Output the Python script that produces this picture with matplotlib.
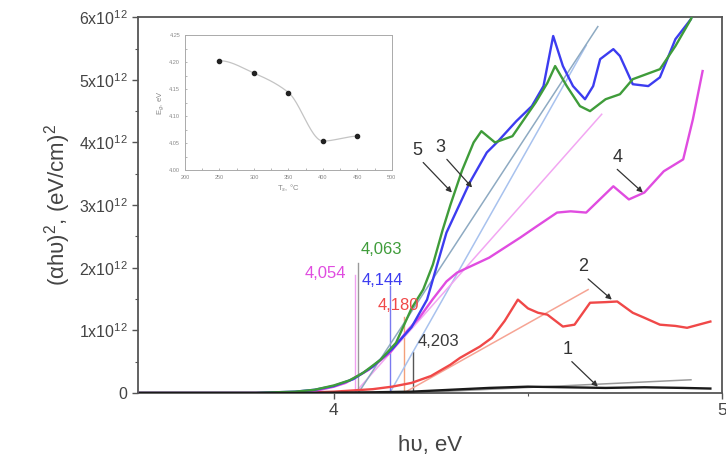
import numpy as np
import matplotlib
matplotlib.use("Agg")
import matplotlib.pyplot as plt
from matplotlib.ticker import MultipleLocator, FixedLocator, FormatStrFormatter

plt.rcParams['font.family'] = ['Liberation Sans', 'DejaVu Sans']
plt.rcParams['mathtext.fontset'] = 'custom'
plt.rcParams['mathtext.rm'] = 'Liberation Sans'

# ---- absorption spectra, (alpha*h*nu)^2 in units of 1e12 (eV/cm)^2 ----
E1 = [3.50, 3.90, 4.10, 4.20, 4.30, 4.40, 4.50, 4.60, 4.70, 4.80, 4.90, 4.97]
A1 = [0.00, 0.00, 0.01, 0.02, 0.05, 0.08, 0.10, 0.09, 0.08, 0.09, 0.08, 0.07]

E2 = [3.50, 3.90, 4.00, 4.10, 4.15, 4.20, 4.25, 4.30, 4.325, 4.376, 4.407, 4.44, 4.474,
      4.50, 4.526, 4.55, 4.59, 4.62, 4.66, 4.70, 4.73, 4.77, 4.80, 4.84, 4.88, 4.91, 4.97]
A2 = [0.00, 0.00, 0.02, 0.06, 0.10, 0.16, 0.27, 0.45, 0.56, 0.74, 0.88, 1.15, 1.49,
      1.35, 1.28, 1.25, 1.06, 1.09, 1.44, 1.45, 1.46, 1.28, 1.20, 1.09, 1.07, 1.04, 1.14]

E3 = [3.50, 3.80, 3.90, 3.95, 4.00, 4.05, 4.10, 4.15, 4.20, 4.24, 4.29, 4.35, 4.394,
      4.42, 4.47, 4.51, 4.54, 4.565, 4.59, 4.616, 4.647, 4.668, 4.686, 4.72, 4.737,
      4.77, 4.81, 4.84, 4.88, 4.92, 4.94]
A3 = [0.00, 0.00, 0.02, 0.05, 0.11, 0.22, 0.42, 0.70, 1.05, 1.49, 2.56, 3.36, 3.84,
      4.00, 4.34, 4.58, 4.90, 5.70, 5.22, 4.90, 4.69, 4.90, 5.33, 5.49, 5.38,
      4.93, 4.90, 5.04, 5.65, 5.97, 6.40]

E4 = [3.50, 3.80, 3.90, 3.95, 4.00, 4.03, 4.09, 4.144, 4.19, 4.22, 4.255, 4.29, 4.317,
      4.40, 4.48, 4.52, 4.575, 4.61, 4.65, 4.68, 4.72, 4.76, 4.80, 4.85, 4.90, 4.925, 4.95]
A4 = [0.00, 0.00, 0.01, 0.03, 0.10, 0.16, 0.37, 0.64, 1.00, 1.20, 1.50, 1.78, 1.92,
      2.16, 2.48, 2.65, 2.88, 2.90, 2.88, 3.06, 3.30, 3.09, 3.20, 3.54, 3.73, 4.37, 5.14]

E5 = [3.50, 3.80, 3.90, 3.95, 4.00, 4.04, 4.075, 4.12, 4.16, 4.20, 4.23, 4.255, 4.28,
      4.30, 4.33, 4.36, 4.38, 4.415, 4.46, 4.49, 4.52, 4.55, 4.57, 4.60, 4.634, 4.66,
      4.70, 4.737, 4.77, 4.84, 4.88, 4.92, 4.94]
A5 = [0.00, 0.00, 0.02, 0.05, 0.12, 0.20, 0.32, 0.53, 0.80, 1.35, 1.65, 2.05, 2.60,
      3.00, 3.55, 4.00, 4.18, 4.00, 4.10, 4.37, 4.64, 4.95, 5.22, 4.90, 4.58, 4.50,
      4.69, 4.77, 5.01, 5.17, 5.54, 5.97, 6.30]

# ---- band-gap values from the linear extrapolation ----
gap_labels = ["4,203", "4,180", "4,144", "4,054", "4,063"]
gap_values = [4.203, 4.180, 4.144, 4.054, 4.063]
# end point of each extrapolation line (E, value in 1e12)
fit_end_E = [4.92, 4.655, 4.65, 4.69, 4.68]
fit_end_A = [0.21, 1.65, 5.55, 4.45, 5.85]
# height of the marker line under each label (1e12)
marker_top = [0.66, 1.22, 1.70, 1.89, 2.08]

# ---- inset: band gap vs substrate temperature ----
Ts = [250, 300, 350, 400, 450]
Eg = [4.203, 4.180, 4.144, 4.054, 4.063]

curve_colors = ['#1a1a1a', '#f04848', '#3c3cf0', '#e04ce0', '#3f9c3a']
fit_colors = ['#9a9a9a', '#f6a494', '#a8c2ee', '#f2a6f2', '#8eaac2']
label_colors = ['#3a3a3a', '#f04848', '#3c3cf0', '#e04ce0', '#3f9c3a']
marker_colors = ['#555555', '#f4a07a', '#7a7af0', '#f0a0f0', '#999999']

series = [(E1, A1), (E2, A2), (E3, A3), (E4, A4), (E5, A5)]


def pchip(x, y, xs):
    """Shape-preserving piecewise cubic Hermite curve through (x, y)."""
    x = np.asarray(x, float)
    y = np.asarray(y, float)
    h = np.diff(x)
    d = np.diff(y) / h
    m = np.zeros_like(y)
    for k in range(1, len(x) - 1):
        if d[k - 1] * d[k] > 0:
            w1 = 2 * h[k] + h[k - 1]
            w2 = h[k] + 2 * h[k - 1]
            m[k] = (w1 + w2) / (w1 / d[k - 1] + w2 / d[k])
    m[0] = 0.0
    m[-1] = 0.0
    idx = np.clip(np.searchsorted(x, xs) - 1, 0, len(x) - 2)
    t = (xs - x[idx]) / h[idx]
    h00 = 2 * t**3 - 3 * t**2 + 1
    h10 = t**3 - 2 * t**2 + t
    h01 = -2 * t**3 + 3 * t**2
    h11 = t**3 - t**2
    return (h00 * y[idx] + h10 * h[idx] * m[idx] +
            h01 * y[idx + 1] + h11 * h[idx] * m[idx + 1])


fig = plt.figure(figsize=(7.26, 4.65), dpi=100)
ax = fig.add_axes([0.19, 0.155, 0.8045, 0.808])
scale = 1e12

# extrapolation lines and markers
for i in range(5):
    ax.plot([gap_values[i], fit_end_E[i]], [0, fit_end_A[i] * scale],
            color=fit_colors[i], lw=1.1, zorder=2)
    ax.plot([gap_values[i], gap_values[i]], [0, marker_top[i] * scale],
            color=marker_colors[i], lw=1.0, zorder=2)

# spectra
order = [1, 3, 2, 4, 0]
for i in order:
    E, A = series[i]
    ax.plot(E, np.array(A) * scale, color=curve_colors[i], lw=1.7, zorder=3)

# gap labels
label_pos = [(4.27, 0.82), (4.165, 1.39), (4.126, 1.79), (3.977, 1.90), (4.121, 2.29)]
for i in range(5):
    x, y = label_pos[i]
    ax.text(x, y * scale, gap_labels[i], color=label_colors[i], fontsize=12,
            ha='center', va='center', zorder=4)

# curve numbers with arrows
num_text = [(4.603, 0.70), (4.642, 2.02), (4.273, 3.92), (4.73, 3.76), (4.214, 3.87)]
num_tail = [(4.613, 0.50), (4.655, 1.82), (4.291, 3.73), (4.73, 3.57), (4.23, 3.68)]
num_head = [(4.68, 0.10), (4.716, 1.49), (4.356, 3.28), (4.796, 3.20), (4.304, 3.20)]
for i in range(5):
    tx, ty = num_text[i]
    ax.text(tx, ty * scale, str(i + 1), fontsize=13, color='#333333',
            ha='center', va='center', zorder=5)
    ax.annotate('', xy=(num_head[i][0], num_head[i][1] * scale),
                xytext=(num_tail[i][0], num_tail[i][1] * scale),
                arrowprops=dict(arrowstyle='-|>', color='#333333', lw=0.9,
                                mutation_scale=8, shrinkA=0, shrinkB=0),
                zorder=5)

ax.set_xlim(3.495, 5.0)
ax.set_ylim(0, 6e12)
ax.xaxis.set_major_locator(FixedLocator([4, 5]))
ax.xaxis.set_minor_locator(FixedLocator([4.5]))
ax.set_xticklabels(['4', '5'])
ax.yaxis.set_minor_locator(MultipleLocator(0.5e12))
ylabels = ['0'] + [f'{k}x10$^{{\\mathregular{{12}}}}$' for k in range(1, 7)]
ax.set_yticks([k * 1e12 for k in range(7)])
ax.set_yticklabels(ylabels)
ax.tick_params(axis='both', which='major', direction='out', length=4, width=1.0,
               colors='#555555', labelsize=11.5, labelcolor='#444444')
ax.tick_params(axis='x', which='major', labelsize=12.5)
ax.tick_params(axis='both', which='minor', direction='out', length=2.5, width=0.8,
               colors='#555555')
for s in ax.spines.values():
    s.set_color('#555555')
    s.set_linewidth(1.3)
ax.set_xlabel('h\u03c5, eV', fontsize=16, color='#444444', labelpad=12)
ax.set_ylabel('(\u03b1h\u03c5)$^2$, (eV/cm)$^2$', fontsize=16, color='#444444',
              labelpad=4)

# inset
ins = fig.add_axes([0.2548, 0.634, 0.285, 0.290])
tt = np.linspace(Ts[0], Ts[-1], 300)
ins.plot(tt, pchip(Ts, Eg, tt), color='#c4c4c4', lw=0.9, zorder=1)
ins.plot(Ts, Eg, 'o', color='#222222', ms=3, zorder=2)
ins.set_xlim(200, 500)
ins.set_ylim(4.00, 4.25)
ins.xaxis.set_major_locator(MultipleLocator(50))
ins.xaxis.set_minor_locator(MultipleLocator(25))
ins.yaxis.set_major_locator(MultipleLocator(0.05))
ins.yaxis.set_minor_locator(MultipleLocator(0.025))
ins.yaxis.set_major_formatter(FormatStrFormatter('%.2f'))
ins.tick_params(which='both', direction='in', colors='#999999', labelsize=4,
                labelcolor='#888888', length=1.5, width=0.5)
for s in ins.spines.values():
    s.set_color('#aaaaaa')
    s.set_linewidth(0.7)
ins.set_xlabel('T$_s$, \u00b0C', fontsize=5.5, color='#888888', labelpad=1.5)
ins.set_ylabel('E$_g$, eV', fontsize=5.5, color='#888888', labelpad=1.5)

fig.savefig('out.png', dpi=100)
